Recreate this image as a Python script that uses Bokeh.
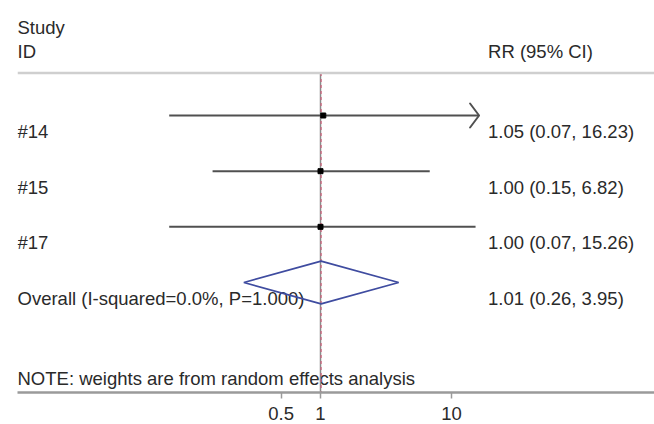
import math
from bokeh.plotting import figure
from bokeh.models import Range1d, FixedTicker, Span
from bokeh.core.properties import value
from bokeh.embed import file_html
from bokeh.resources import INLINE

# Study-level relative risks with 95% confidence intervals
studies = ["#14", "#15", "#17"]
rr = [1.05, 1.00, 1.00]
ci_lo = [0.07, 0.15, 0.07]
ci_hi = [16.23, 6.82, 15.26]

# Pooled (random effects) estimate
overall_label = "Overall (I-squared=0.0%, P=1.000)"
overall_rr = 1.01
overall_lo = 0.26
overall_hi = 3.95

x_ticks = [0.5, 1, 10]
x_tick_labels = ["0.5", "1", "10"]
arrow_limit = 16.0  # intervals reaching past this end in an arrow head

FONT = "Liberation Sans"
TEXT_COLOR = "#2a2a2a"
FS = "18.5px"
CI_COLOR = "#505050"

rows = list(range(len(studies)))
overall_row = len(studies)

def fmt(est, lo, hi):
    return f"{est:.2f} ({lo:.2f}, {hi:.2f})"

W, H = 654, 424
B_LEFT, B_BOTTOM = 17, 32
x_lo, x_hi = 0.004864, 354.4
y_bottom, y_top = 4.976, -2.066
label_x = 19.0

p = figure(width=W, height=H, x_axis_type="log",
           x_range=Range1d(x_lo, x_hi), y_range=Range1d(y_bottom, y_top),
           output_backend="svg", toolbar_location=None, y_axis_location=None,
           min_border_left=B_LEFT, min_border_right=0, min_border_top=0,
           min_border_bottom=B_BOTTOM)
p.grid.visible = False
p.outline_line_color = None
p.background_fill_color = "white"
p.border_fill_color = "white"

# pixels per decade / per row, used to size the arrow heads
px_per_decade = (W - B_LEFT) / (math.log10(x_hi) - math.log10(x_lo))
px_per_row = (H - B_BOTTOM) / (y_bottom - y_top)

# x axis
ax = p.xaxis[0]
ax.ticker = FixedTicker(ticks=x_ticks)
ax.major_label_overrides = {t: s for t, s in zip(x_ticks, x_tick_labels)}
ax.axis_line_color = "#9a9a9a"
ax.axis_line_width = 2.5
ax.major_tick_line_color = "#9a9a9a"
ax.major_tick_line_width = 1.5
ax.major_tick_out = 6
ax.major_tick_in = 0
ax.minor_tick_line_color = None
ax.major_label_text_font = FONT
ax.major_label_text_font_size = FS
ax.major_label_text_color = TEXT_COLOR
ax.major_label_standoff = 8

txt = dict(text_font=value(FONT), text_font_size=FS, text_color=TEXT_COLOR,
           text_baseline="alphabetic")

# headers
p.text(x=[x_lo, x_lo, label_x], y=[-1.581, -1.150, -1.150],
       text=["Study", "ID", "RR (95% CI)"], text_align="left", **txt)

# row labels and estimates
left_text = studies + [overall_label]
right_text = [fmt(e, l, h) for e, l, h in zip(rr, ci_lo, ci_hi)] + \
             [fmt(overall_rr, overall_lo, overall_hi)]
all_rows = rows + [overall_row]
p.text(x=[x_lo] * len(all_rows), y=all_rows, text=left_text,
       text_align="left", y_offset=16, **txt)
p.text(x=[label_x] * len(all_rows), y=all_rows, text=right_text,
       text_align="left", y_offset=16, **txt)

p.text(x=[x_lo], y=[4.724], text=["NOTE: weights are from random effects analysis"],
       text_align="left", **txt)

# top rule
p.add_layout(Span(location=-0.763, dimension="width",
                  line_color="#cfcfcf", line_width=2.5))

# no-effect line and pooled-estimate line
p.segment(x0=[1], y0=[-0.763], x1=[1], y1=[y_bottom],
          line_color="#8a8a8a", line_width=1.5)
p.segment(x0=[overall_rr], y0=[-0.763], x1=[overall_rr], y1=[y_bottom],
          line_color="#d0607a", line_width=1.2, line_dash="3 3")

# confidence intervals
p.segment(x0=ci_lo, y0=rows, x1=ci_hi, y1=rows,
          line_color=CI_COLOR, line_width=2)

# open arrow heads on intervals running past the display limit
head_depth, head_half = 9, 12  # px
xs, ys = [], []
for i in rows:
    if ci_hi[i] > arrow_limit:
        back = ci_hi[i] / 10 ** (head_depth / px_per_decade)
        dy = head_half / px_per_row
        xs.append([back, ci_hi[i], back])
        ys.append([rows[i] - dy, rows[i], rows[i] + dy])
if xs:
    p.multi_line(xs=xs, ys=ys, line_color=CI_COLOR, line_width=2,
                 line_join="round", line_cap="round")

# point estimates
p.scatter(x=rr, y=rows, marker="square", size=5, color="black")

# pooled diamond
h = 0.386
p.patch(x=[overall_lo, overall_rr, overall_hi, overall_rr],
        y=[overall_row, overall_row - h, overall_row, overall_row + h],
        fill_alpha=0, line_color="#3f4ca0", line_width=1.8)

open("out.html", "w").write(file_html(p, INLINE))
